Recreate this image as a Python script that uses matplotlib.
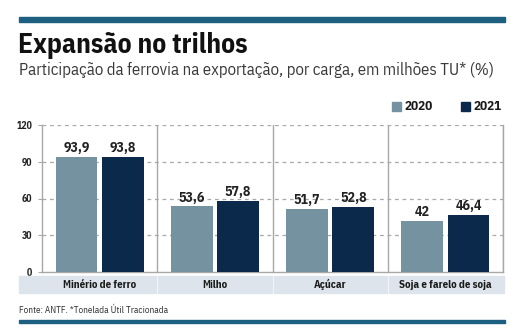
import matplotlib
matplotlib.use("Agg")
import matplotlib.pyplot as plt
from matplotlib.patches import Rectangle
import numpy as np

categories = ["Minério de ferro", "Milho", "Açúcar", "Soja e farelo de soja"]
values_2020 = [93.9, 53.6, 51.7, 42]
values_2021 = [93.8, 57.8, 52.8, 46.4]
labels_2020 = ["93,9", "53,6", "51,7", "42"]
labels_2021 = ["93,8", "57,8", "52,8", "46,4"]
yticks = [0, 30, 60, 90, 120]
series_names = ["2020", "2021"]

C2020 = "#7592a0"
C2021 = "#0b2a4b"
BAR_TOP = "#1d5f80"
BAND = "#dde4eb"
GRIDC = "#a8a8a8"

W, H = 513, 334
fig = plt.figure(figsize=(W / 100, H / 100), dpi=100)

def fx(px):
    return px / W

def fy(py):
    return 1 - py / H

narrow = ["IBM Plex Sans Condensed", "DejaVu Sans"]

# top and bottom rules
fig.patches.append(Rectangle((fx(19), fy(22)), fx(505) - fx(19), fy(17) - fy(22),
                             transform=fig.transFigure, color=BAR_TOP, zorder=1))
fig.patches.append(Rectangle((fx(19), fy(323)), fx(505) - fx(19), fy(320) - fy(323),
                             transform=fig.transFigure, color=BAR_TOP, zorder=1))

fig.text(fx(18), fy(53), "Expansão no trilhos", family=narrow, fontweight="bold",
         fontsize=19.8, color="#111111", ha="left", va="baseline")
fig.text(fx(19), fy(75), "Participação da ferrovia na exportação, por carga, em milhões TU* (%)",
         family=narrow, fontweight="normal", fontsize=12.1, color="#3a3a3a", ha="left", va="baseline")

# legend
for sx, col, name in [(392, C2020, series_names[0]), (461, C2021, series_names[1])]:
    fig.patches.append(Rectangle((fx(sx), fy(111)), fx(9), 9 / H,
                                 transform=fig.transFigure, color=col))
    fig.text(fx(sx + 13), fy(106.5), name, family=narrow, fontweight="bold",
             fontsize=9.5, color="#1a1a1a", ha="left", va="center")

ax_l, ax_r, ax_t, ax_b = 42, 503, 125, 272
ax = fig.add_axes([fx(ax_l), fy(ax_b), fx(ax_r) - fx(ax_l), fy(ax_t) - fy(ax_b)])

x = np.arange(len(categories))
bw = 0.362
off = bw / 2 + 0.02
ax.bar(x - off, values_2020, bw, color=C2020, zorder=3)
ax.bar(x + off, values_2021, bw, color=C2021, zorder=3)
for xi, v, t in zip(x - off, values_2020, labels_2020):
    ax.text(xi, v + 1.5, t, ha="center", va="bottom", family=narrow,
            fontweight="bold", fontsize=10, color="#222222", zorder=4)
for xi, v, t in zip(x + off, values_2021, labels_2021):
    ax.text(xi, v + 1.5, t, ha="center", va="bottom", family=narrow,
            fontweight="bold", fontsize=10, color="#222222", zorder=4)

ax.set_xlim(-0.5, len(categories) - 0.5)
ax.set_ylim(0, 120)
ax.set_yticks(yticks)
ax.set_yticklabels([str(v) for v in yticks], family=narrow, fontweight="bold",
                   fontsize=7, color="#222222")
ax.tick_params(axis="y", length=3, width=0.8, color=GRIDC, pad=4)
ax.set_xticks([])
for v in yticks[1:]:
    ax.axhline(v, color=GRIDC, lw=0.9, ls=(0, (3, 3)), zorder=1)
for d in np.arange(0.5, len(categories), 1.0):
    ax.axvline(d, color=GRIDC, lw=1.0, zorder=2)
ax.spines["top"].set_visible(False)
for s in ["left", "right", "bottom"]:
    ax.spines[s].set_color(GRIDC)
    ax.spines[s].set_linewidth(1.0)

# category band
band_top, band_bot = 276, 293
ppu = (ax_r - ax_l) / len(categories)
edges = [19] + [ax_l + ppu * (i + 1) for i in range(len(categories) - 1)] + [505]
for i, cat in enumerate(categories):
    x0 = edges[i] + (1 if i > 0 else 0)
    x1 = edges[i + 1] - 1
    fig.patches.append(Rectangle((fx(x0), fy(band_bot)), fx(x1) - fx(x0),
                                 fy(band_top) - fy(band_bot),
                                 transform=fig.transFigure, color=BAND))
    cx = ax_l + ppu * (i + 0.5)
    fig.text(fx(cx), fy((band_top + band_bot) / 2), cat, family=narrow,
             fontweight="bold", fontsize=7.8, color="#1a1a1a", ha="center", va="center")

fig.text(fx(19), fy(310), "Fonte: ANTF. *Tonelada Útil Tracionada", family=narrow,
         fontsize=6.7, color="#333333", ha="left", va="center")

fig.savefig("out.png", dpi=100)
